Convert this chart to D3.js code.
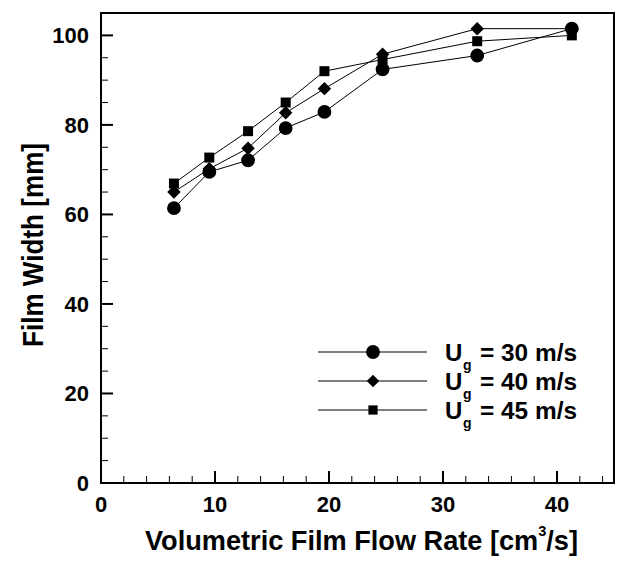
<!DOCTYPE html>
<html><head><meta charset="utf-8">
<script src="https://cdn.jsdelivr.net/npm/d3@7"></script>
<style>body{margin:0;background:#fff}svg{display:block}text{font-family:"Liberation Sans",Arial,sans-serif;font-weight:bold;fill:#000}</style>
</head><body><svg id="c" width="621" height="571"></svg>
<script>
const flowRate = [6.4, 9.5, 12.9, 16.2, 19.6, 24.7, 33.0, 41.3];
const width30 = [61.4, 69.5, 72.1, 79.3, 82.9, 92.4, 95.5, 101.5];
const width40 = [65.0, 70.2, 74.8, 82.7, 88.1, 95.8, 101.5, 101.5];
const width45 = [66.9, 72.7, 78.6, 85.0, 92.0, 94.6, 98.7, 100.0];
const seriesNames = ["30 m/s", "40 m/s", "45 m/s"];
const xTicks = [0, 10, 20, 30, 40];
const yTicks = [0, 20, 40, 60, 80, 100];

const series = [
  {name: seriesNames[0], vals: width30, sym: d3.symbolCircle},
  {name: seriesNames[1], vals: width40, sym: d3.symbolDiamond2},
  {name: seriesNames[2], vals: width45, sym: d3.symbolSquare}
];
const L = 101, R = 614, T = 13, B = 483;
const x = d3.scaleLinear().domain([0, 45]).range([L, R]);
const y = d3.scaleLinear().domain([0, 105]).range([B, T]);
const svg = d3.select("#c");

// frame
svg.append("rect").attr("x", L).attr("y", T).attr("width", R - L).attr("height", B - T)
  .attr("fill", "none").attr("stroke", "#000").attr("stroke-width", 2);

// ticks
const g = svg.append("g");
d3.range(0, 45.01, 2).forEach(v => {
  const major = v % 10 === 0;
  g.append("line").attr("x1", x(v)).attr("x2", x(v)).attr("y1", B).attr("y2", B - (major ? 12 : 7))
    .attr("stroke", "#000").attr("stroke-width", major ? 2 : 1);
});
d3.range(0, 105.01, 5).forEach(v => {
  const major = v % 20 === 0;
  g.append("line").attr("x1", L).attr("x2", L + (major ? 12 : 7)).attr("y1", y(v)).attr("y2", y(v))
    .attr("stroke", "#000").attr("stroke-width", major ? 2 : 1);
});
xTicks.forEach(v => g.append("text").attr("x", x(v)).attr("y", 512).attr("text-anchor", "middle")
  .attr("font-size", 22).text(v));
yTicks.forEach(v => g.append("text").attr("x", 89).attr("y", y(v) + 8).attr("text-anchor", "end")
  .attr("font-size", 22).text(v));

// titles
svg.append("text").attr("x", 145).attr("y", 550).attr("font-size", 28)
  .attr("textLength", 433).attr("lengthAdjust", "spacingAndGlyphs")
  .html('Volumetric Film Flow Rate [cm<tspan dy="-14" font-size="15">3</tspan><tspan dy="14">/s]</tspan>');
svg.append("text").attr("transform", "translate(43,347) rotate(-90)")
  .attr("font-size", 30).attr("textLength", 204).attr("lengthAdjust", "spacingAndGlyphs")
  .text("Film Width [mm]");

// series
const line = d3.line().x(d => x(d[0])).y(d => y(d[1]));
const sizes = [150, 115, 100];
series.forEach((s, i) => {
  const pts = flowRate.map((f, j) => [f, s.vals[j]]);
  svg.append("path").attr("d", line(pts)).attr("fill", "none").attr("stroke", "#000").attr("stroke-width", 1);
  svg.selectAll(null).data(pts).enter().append("path")
    .attr("transform", d => `translate(${x(d[0])},${y(d[1])})`)
    .attr("d", d3.symbol().type(s.sym).size(sizes[i]));
});

// legend
const legY = [352, 381, 410];
const lsizes = [150, 100, 85];
series.forEach((s, i) => {
  svg.append("line").attr("x1", 318).attr("x2", 427).attr("y1", legY[i]).attr("y2", legY[i])
    .attr("stroke", "#000").attr("stroke-width", 1);
  svg.append("path").attr("transform", `translate(373,${legY[i]})`)
    .attr("d", d3.symbol().type(s.sym).size(lsizes[i]));
  const t = svg.append("text").attr("y", legY[i] + 9).attr("font-size", 24);
  t.append("tspan").attr("x", 445).text("U");
  t.append("tspan").attr("x", 463).attr("dy", 9).attr("font-size", 14).text("g");
  t.append("tspan").attr("x", 480).attr("dy", -9).attr("textLength", 97)
    .attr("lengthAdjust", "spacingAndGlyphs").text("= " + s.name);
});
</script></body></html>
